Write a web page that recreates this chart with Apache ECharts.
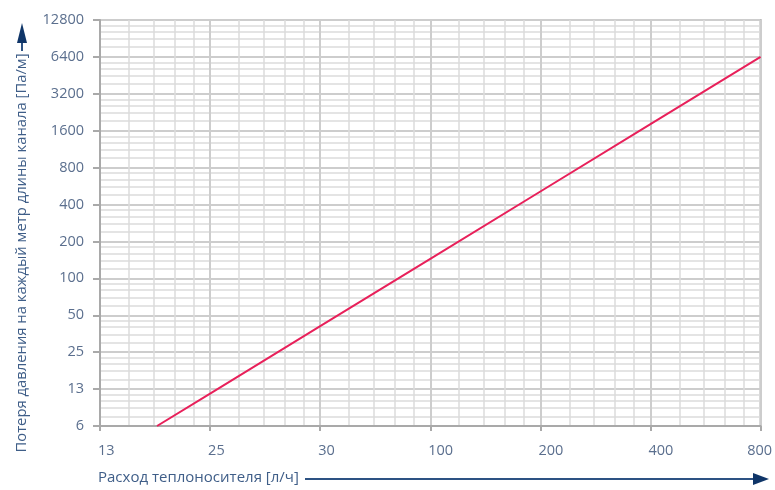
<!DOCTYPE html>
<html>
<head>
<meta charset="utf-8">
<script src="https://cdn.jsdelivr.net/npm/echarts@6/dist/echarts.min.js"></script>
<style>
  html, body { margin: 0; padding: 0; background: #fff; }
  #chart { width: 775px; height: 490px; }
</style>
</head>
<body>
<div id="chart"></div>
<script>
// tick labels as printed on the chart (each step is a doubling)
const xLabels = ['13', '25', '30', '100', '200', '400', '800'];
const yLabels = ['6', '13', '25', '50', '100', '200', '400', '800', '1600', '3200', '6400', '12800'];
const X0 = 12.5;   // value at the first x tick
const Y0 = 6.25;   // value at the first y tick

// flow [l/h] and pressure loss [Pa/m]
const flow = [17.9, 25, 50, 100, 200, 400, 800];
const loss = [6.25, 11.5, 40.8, 144, 511, 1809, 6400];

const labelColor = '#5b6f8e';
const nameColor = '#3f5e88';
const arrowColor = '#0f3568';

const chart = echarts.init(document.getElementById('chart'));

function idx(v) { return Math.round(Math.log2(v)); }

chart.setOption({
  animation: false,
  grid: {
    left: 100, right: 13, top: 20, bottom: 64,
    show: true, borderColor: '#a9a9a9', borderWidth: 2
  },
  xAxis: {
    type: 'log', logBase: 2, min: 1, max: 64, interval: 1,
    axisLine: { lineStyle: { color: '#a9a9a9', width: 2 } },
    axisTick: { show: true, length: 5, lineStyle: { color: '#a9a9a9', width: 2 } },
    axisLabel: {
      color: labelColor, fontFamily: 'Open Sans', fontSize: 14.5, margin: 17,
      align: 'left', alignMaxLabel: 'center', padding: [0, 0, 0, -2],
      formatter: v => xLabels[idx(v)]
    },
    splitLine: { show: true, lineStyle: { color: '#cdcdcd', width: 2 } },
    minorTick: { show: false, splitNumber: 5 },
    minorSplitLine: { show: true, lineStyle: { color: '#dcdcdc', width: 1.5 } }
  },
  yAxis: {
    type: 'log', logBase: 2, min: 1, max: 2048, interval: 1,
    axisLine: { show: true, lineStyle: { color: '#a9a9a9', width: 2 } },
    axisTick: { show: true, length: 7, lineStyle: { color: '#a9a9a9', width: 2 } },
    axisLabel: {
      color: labelColor, fontFamily: 'Open Sans', fontSize: 14.5, margin: 16,
      formatter: v => yLabels[idx(v)]
    },
    splitLine: { show: true, lineStyle: { color: '#cdcdcd', width: 2 } },
    minorTick: { show: false, splitNumber: 5 },
    minorSplitLine: { show: true, lineStyle: { color: '#dcdcdc', width: 1.5 } }
  },
  series: [{
    type: 'line',
    data: flow.map((f, i) => [f / X0, loss[i] / Y0]),
    showSymbol: false,
    lineStyle: { color: '#e8205a', width: 2 },
    z: 5
  }],
  graphic: [
    {
      type: 'text', left: 98, top: 470,
      style: { text: 'Расход теплоносителя [л/ч]', fill: nameColor, font: '15px "Open Sans"' }
    },
    {
      type: 'line', shape: { x1: 305, y1: 479, x2: 756, y2: 479 },
      style: { stroke: '#2d5283', lineWidth: 2 }
    },
    {
      type: 'polygon', shape: { points: [[753, 473], [769, 479], [753, 485]] },
      style: { fill: arrowColor }
    },
    {
      type: 'text', x: 22, y: 253, rotation: Math.PI / 2,
      style: {
        text: 'Потеря давления на каждый метр длины канала [Па/м]',
        fill: nameColor, font: '14.8px "Open Sans"', align: 'center', verticalAlign: 'middle'
      }
    },
    {
      type: 'line', shape: { x1: 22, y1: 51, x2: 22, y2: 40 },
      style: { stroke: '#2d5283', lineWidth: 2 }
    },
    {
      type: 'polygon', shape: { points: [[17, 43], [22, 23], [27, 43]] },
      style: { fill: arrowColor }
    }
  ]
});
</script>
</body>
</html>
